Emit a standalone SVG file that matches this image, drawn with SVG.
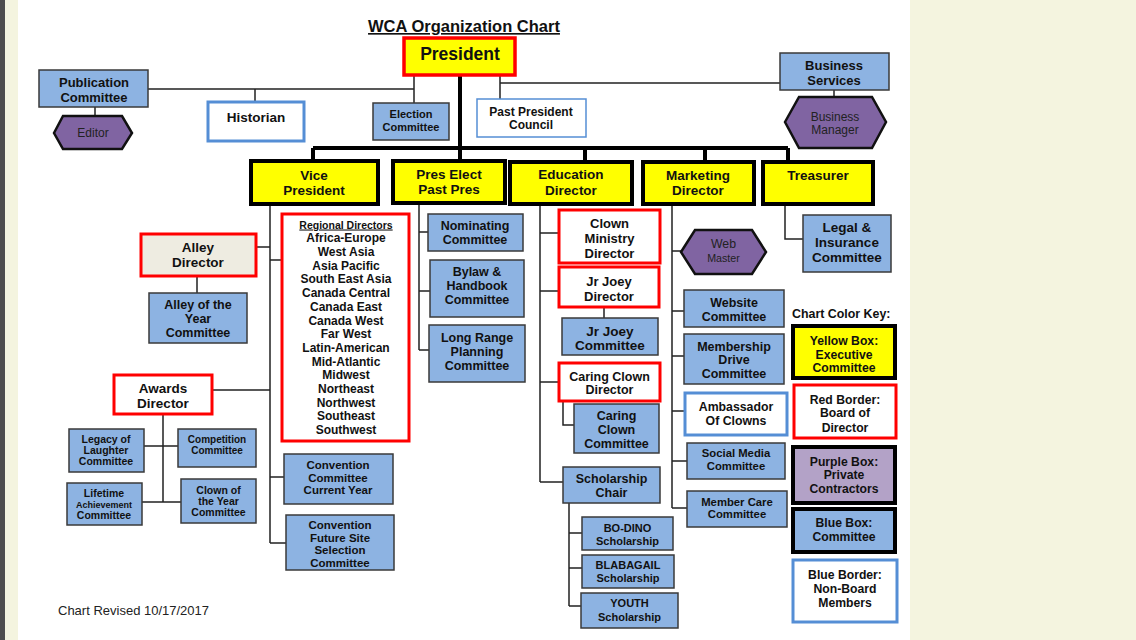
<svg xmlns="http://www.w3.org/2000/svg" width="1136" height="640" viewBox="0 0 1136 640">
<style>
.bx{fill:#8db3e2;stroke:#3a3a3a;stroke-width:1.5}
.ex{fill:#ffff00;stroke:#000;stroke-width:4}
.rd{fill:#fff;stroke:#ff0000;stroke-width:3}
.nb{fill:#fff;stroke:#558ed5;stroke-width:3}
.hx{fill:#8064a2;stroke:#111;stroke-width:2.5}
text{font-family:"Liberation Sans",Arial,sans-serif;font-weight:bold;fill:#111;text-anchor:middle}
.n{font-weight:normal;fill:#222}
.ln{stroke:#222;stroke-width:1.5;fill:none}
.tk{stroke:#000;stroke-width:4;fill:none}
</style>
<rect x="0" y="0" width="1136" height="640" fill="#f4f4df"/>
<rect x="0" y="0" width="5" height="640" fill="#4d4d4d"/>
<rect x="18" y="0" width="892" height="640" fill="#fff"/>

<g id="connectors">
<path class="ln" d="M148 89H414M255 89V102M414 75V103M95 107V116M500 75V99M500 83H780M834 90V97"/>
<path class="tk" d="M460 75V161M313 148H788M313 148V161M585 148V162M705 148V162M788 148V162"/>
<path class="ln" d="M270 204V543M256 247H270M270 260H282M212 390H270M270 477H284M270 543H286"/>
<path class="ln" d="M197 276V293M163 414V502M144 446H178M142 502H181"/>
<path class="ln" d="M419 203V350M419 232H428M419 291H430M419 350H429"/>
<path class="ln" d="M540 204V482M540 233H559M540 291H559M540 382H559M540 482H563M604 307V318M563 401V425H574"/>
<path class="ln" d="M569 503V606M569 533H582M569 568H582M569 606H581"/>
<path class="ln" d="M672 204V508M672 251H681M672 311H684M672 356H684M672 411H685M672 461H687M672 508H687"/>
<path class="ln" d="M785 204V239H803"/>
</g>

<g id="title"><text x="464" y="32" font-size="16.5" text-decoration="underline">WCA Organization Chart</text></g>

<g id="president"><rect class="ex" x="404" y="38" width="111" height="37" style="stroke:#ff0000;stroke-width:3.5"/><text x="460" y="60" font-size="17.5">President</text></g>

<g id="publication"><rect class="bx" x="39" y="70" width="109" height="37"/><text x="94" y="87" font-size="13">Publication</text><text x="94" y="102" font-size="13">Committee</text></g>
<g id="editor"><polygon class="hx" points="54,133 63,116 122,116 132,133 122,149 63,149"/><text class="n" x="93" y="137" font-size="12">Editor</text></g>
<g id="historian"><rect class="nb" x="208" y="102" width="96" height="39"/><text x="256" y="122" font-size="13.5">Historian</text></g>
<g id="election"><rect class="bx" x="373" y="103" width="76" height="37"/><text x="411" y="118" font-size="11">Election</text><text x="411" y="131" font-size="11">Committee</text></g>
<g id="pastpres"><rect x="477" y="99" width="109" height="38" fill="#fff" stroke="#558ed5" stroke-width="1.5"/><text x="531" y="115.5" font-size="12">Past President</text><text x="531" y="128.5" font-size="12">Council</text></g>
<g id="business"><rect class="bx" x="780" y="53" width="109" height="37"/><text x="834" y="70" font-size="13">Business</text><text x="834" y="85" font-size="13">Services</text></g>
<g id="bizmanager"><polygon class="hx" points="785,122 799,97 872,97 886,122 872,148 799,148"/><text class="n" x="835" y="121" font-size="12">Business</text><text class="n" x="835" y="134" font-size="12">Manager</text></g>

<g id="vp"><rect class="ex" x="251" y="161" width="127" height="43"/><text x="314" y="180" font-size="13.5">Vice</text><text x="314" y="195" font-size="13.5">President</text></g>
<g id="preselect"><rect class="ex" x="393" y="161" width="112" height="42"/><text x="449" y="179" font-size="13.5">Pres Elect</text><text x="449" y="194" font-size="13.5">Past Pres</text></g>
<g id="education"><rect class="ex" x="510" y="162" width="122" height="42"/><text x="571" y="179" font-size="13.5">Education</text><text x="571" y="195" font-size="13.5">Director</text></g>
<g id="marketing"><rect class="ex" x="643" y="162" width="111" height="42"/><text x="698" y="180" font-size="13.5">Marketing</text><text x="698" y="195" font-size="13.5">Director</text></g>
<g id="treasurer"><rect class="ex" x="763" y="162" width="110" height="42"/><text x="818" y="180" font-size="13.5">Treasurer</text></g>

<g id="alleydir"><rect class="rd" x="141" y="234" width="115" height="42" style="fill:#eeece1"/><text x="198" y="252" font-size="13.5">Alley</text><text x="198" y="267" font-size="13.5">Director</text></g>
<g id="alleyyear"><rect class="bx" x="149" y="293" width="98" height="50"/><text x="198" y="308.5" font-size="12.5">Alley of the</text><text x="198" y="322.5" font-size="12.5">Year</text><text x="198" y="336.5" font-size="12.5">Committee</text></g>
<g id="regional"><rect class="rd" x="282" y="214" width="127" height="227"/>
<text x="346" y="228.5" font-size="10.5" text-decoration="underline">Regional Directors</text>
<text x="346" y="242.3" font-size="12">Africa-Europe</text>
<text x="346" y="256" font-size="12">West Asia</text>
<text x="346" y="269.7" font-size="12">Asia Pacific</text>
<text x="346" y="283.4" font-size="12">South East Asia</text>
<text x="346" y="297.1" font-size="12">Canada Central</text>
<text x="346" y="310.8" font-size="12">Canada East</text>
<text x="346" y="324.5" font-size="12">Canada West</text>
<text x="346" y="338.2" font-size="12">Far West</text>
<text x="346" y="351.9" font-size="12">Latin-American</text>
<text x="346" y="365.6" font-size="12">Mid-Atlantic</text>
<text x="346" y="379.3" font-size="12">Midwest</text>
<text x="346" y="393" font-size="12">Northeast</text>
<text x="346" y="406.7" font-size="12">Northwest</text>
<text x="346" y="420.4" font-size="12">Southeast</text>
<text x="346" y="434.1" font-size="12">Southwest</text>
</g>
<g id="awards"><rect class="rd" x="114" y="375" width="98" height="39"/><text x="163" y="393" font-size="13.5">Awards</text><text x="163" y="408" font-size="13.5">Director</text></g>
<g id="legacy"><rect class="bx" x="69" y="429" width="75" height="43"/><text x="106" y="443" font-size="10.5">Legacy of</text><text x="106" y="454" font-size="10.5">Laughter</text><text x="106" y="465" font-size="10.5">Committee</text></g>
<g id="competition"><rect class="bx" x="178" y="429" width="78" height="38"/><text x="217" y="443" font-size="10">Competition</text><text x="217" y="454" font-size="10">Committee</text></g>
<g id="lifetime"><rect class="bx" x="67" y="483" width="75" height="42"/><text x="104" y="497" font-size="10.5">Lifetime</text><text x="104" y="507.5" font-size="9">Achievement</text><text x="104" y="519" font-size="10.5">Committee</text></g>
<g id="clownyear"><rect class="bx" x="181" y="479" width="75" height="44"/><text x="218.5" y="494" font-size="10.5">Clown of</text><text x="218.5" y="505" font-size="10.5">the Year</text><text x="218.5" y="516" font-size="10.5">Committee</text></g>
<g id="convcurrent"><rect class="bx" x="284" y="454" width="109" height="50"/><text x="338" y="469" font-size="11.5">Convention</text><text x="338" y="482" font-size="11.5">Committee</text><text x="338" y="494" font-size="11.5">Current Year</text></g>
<g id="convfuture"><rect class="bx" x="286" y="515" width="108" height="55"/><text x="340" y="529" font-size="11.5">Convention</text><text x="340" y="542" font-size="11.5">Future Site</text><text x="340" y="554" font-size="11.5">Selection</text><text x="340" y="567" font-size="11.5">Committee</text></g>

<g id="nominating"><rect class="bx" x="428" y="214" width="95" height="37"/><text x="475" y="229.5" font-size="12.5">Nominating</text><text x="475" y="243.5" font-size="12.5">Committee</text></g>
<g id="bylaw"><rect class="bx" x="430" y="260" width="94" height="57"/><text x="477" y="275.5" font-size="12.5">Bylaw &amp;</text><text x="477" y="289.5" font-size="12.5">Handbook</text><text x="477" y="303.5" font-size="12.5">Committee</text></g>
<g id="longrange"><rect class="bx" x="429" y="325" width="96" height="57"/><text x="477" y="341.5" font-size="12.5">Long Range</text><text x="477" y="355.5" font-size="12.5">Planning</text><text x="477" y="369.5" font-size="12.5">Committee</text></g>

<g id="clownministry"><rect class="rd" x="559" y="210" width="101" height="53"/><text x="609.5" y="227.5" font-size="13">Clown</text><text x="609.5" y="242.5" font-size="13">Ministry</text><text x="609.5" y="257.5" font-size="13">Director</text></g>
<g id="jrjoeydir"><rect class="rd" x="559" y="267" width="100" height="40"/><text x="609" y="285.5" font-size="13">Jr Joey</text><text x="609" y="300.5" font-size="13">Director</text></g>
<g id="jrjoeycom"><rect class="bx" x="562" y="318" width="96" height="37"/><text x="610" y="336" font-size="13.5">Jr Joey</text><text x="610" y="350" font-size="13.5">Committee</text></g>
<g id="caringdir"><rect class="rd" x="559" y="363" width="101" height="38"/><text x="609.5" y="380.5" font-size="12.5">Caring Clown</text><text x="609.5" y="393.5" font-size="12.5">Director</text></g>
<g id="caringcom"><rect class="bx" x="574" y="404" width="85" height="49"/><text x="616.5" y="419.5" font-size="12.5">Caring</text><text x="616.5" y="433.5" font-size="12.5">Clown</text><text x="616.5" y="447.5" font-size="12.5">Committee</text></g>
<g id="scholarship"><rect class="bx" x="563" y="467" width="97" height="36"/><text x="611.5" y="482.5" font-size="12.5">Scholarship</text><text x="611.5" y="496.5" font-size="12.5">Chair</text></g>
<g id="bodino"><rect class="bx" x="582" y="517" width="91" height="33"/><text x="627.5" y="532" font-size="11">BO-DINO</text><text x="627.5" y="544.5" font-size="11">Scholarship</text></g>
<g id="blabagail"><rect class="bx" x="582" y="555" width="92" height="33"/><text x="628" y="569" font-size="11">BLABAGAIL</text><text x="628" y="582" font-size="11">Scholarship</text></g>
<g id="youth"><rect class="bx" x="581" y="593" width="97" height="35"/><text x="629.5" y="607" font-size="11">YOUTH</text><text x="629.5" y="621" font-size="11">Scholarship</text></g>

<g id="webmaster"><polygon class="hx" points="681,252 695,230 752,230 766,252 752,274 695,274"/><text class="n" x="723.5" y="248" font-size="12.3">Web</text><text class="n" x="723.5" y="262" font-size="10.7">Master</text></g>
<g id="website"><rect class="bx" x="684" y="290" width="100" height="37"/><text x="734" y="306.5" font-size="12.5">Website</text><text x="734" y="320.5" font-size="12.5">Committee</text></g>
<g id="membership"><rect class="bx" x="684" y="334" width="100" height="50"/><text x="734" y="350.5" font-size="12.5">Membership</text><text x="734" y="363.5" font-size="12.5">Drive</text><text x="734" y="377.5" font-size="12.5">Committee</text></g>
<g id="ambassador"><rect class="nb" x="685" y="393" width="102" height="42"/><text x="736" y="410.5" font-size="12.3">Ambassador</text><text x="736" y="424.5" font-size="12.3">Of Clowns</text></g>
<g id="socialmedia"><rect class="bx" x="687" y="443" width="98" height="36"/><text x="736" y="457" font-size="11.3">Social Media</text><text x="736" y="470" font-size="11.3">Committee</text></g>
<g id="membercare"><rect class="bx" x="687" y="491" width="100" height="36"/><text x="737" y="506" font-size="11.3">Member Care</text><text x="737" y="518" font-size="11.3">Committee</text></g>

<g id="legal"><rect class="bx" x="803" y="215" width="88" height="57"/><text x="847" y="232" font-size="13.5">Legal &amp;</text><text x="847" y="247" font-size="13.5">Insurance</text><text x="847" y="262" font-size="13.5">Committee</text></g>

<g id="key">
<text x="792" y="317.5" font-size="12.4" style="text-anchor:start">Chart Color Key:</text>
<g id="key-yellow"><rect class="ex" x="793" y="326" width="102" height="52"/><text x="844" y="344.5" font-size="12.2">Yellow Box:</text><text x="844" y="358.5" font-size="12.2">Executive</text><text x="844" y="371.5" font-size="12.2">Committee</text></g>
<g id="key-red"><rect class="rd" x="794" y="385" width="102" height="53"/><text x="845" y="403.5" font-size="12.2">Red Border:</text><text x="845" y="416.5" font-size="12.2">Board of</text><text x="845" y="431.5" font-size="12.2">Director</text></g>
<g id="key-purple"><rect x="793" y="447" width="102" height="56" fill="#b3a2c7" stroke="#000" stroke-width="4"/><text x="844" y="465.5" font-size="12.2">Purple Box:</text><text x="844" y="478.5" font-size="12.2">Private</text><text x="844" y="492.5" font-size="12.2">Contractors</text></g>
<g id="key-blue"><rect class="bx" x="793" y="509" width="102" height="43" style="stroke:#000;stroke-width:4"/><text x="844" y="526.5" font-size="12.2">Blue Box:</text><text x="844" y="540.5" font-size="12.2">Committee</text></g>
<g id="key-border"><rect class="nb" x="793" y="560" width="104" height="62"/><text x="845" y="578.5" font-size="12.2">Blue Border:</text><text x="845" y="592.5" font-size="12.2">Non-Board</text><text x="845" y="606.5" font-size="12.2">Members</text></g>
</g>

<g id="revised"><text class="n" x="58" y="615" font-size="13" style="text-anchor:start">Chart Revised 10/17/2017</text></g>
</svg>
